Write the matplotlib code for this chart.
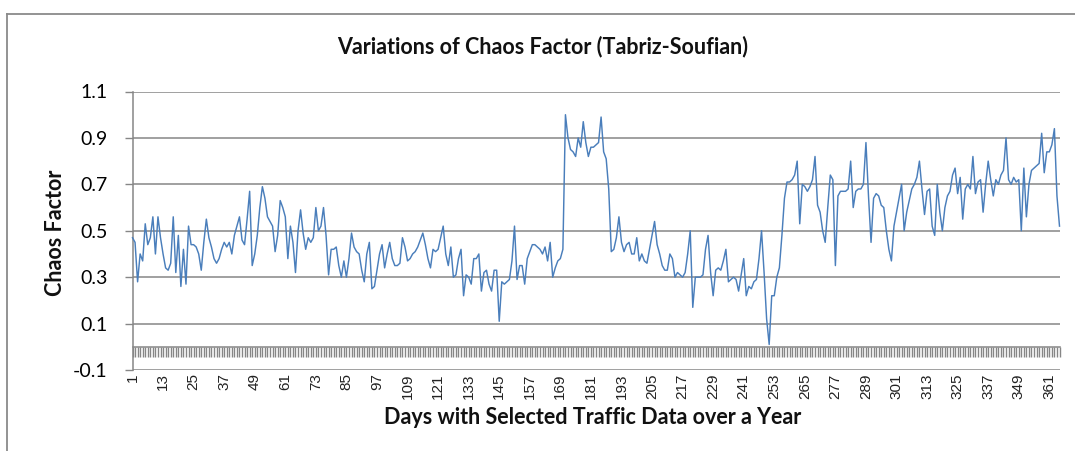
import matplotlib
matplotlib.use("Agg")
import matplotlib.pyplot as plt
from matplotlib.lines import Line2D
from matplotlib.transforms import blended_transform_factory
import numpy as np

days = list(range(1, 366))
chaos = [
    # 1-47
    0.47, 0.45, 0.28, 0.40, 0.37, 0.53, 0.44, 0.47, 0.56, 0.40,
    0.56, 0.47, 0.40, 0.34, 0.33, 0.36, 0.56, 0.32, 0.48, 0.26,
    0.42, 0.27, 0.52, 0.44, 0.44, 0.43, 0.40, 0.33, 0.45, 0.55,
    0.47, 0.43, 0.38, 0.36, 0.38, 0.42, 0.45, 0.43, 0.45, 0.40,
    0.48, 0.52, 0.56, 0.46, 0.44, 0.55, 0.67,
    # 48-92
    0.35, 0.40, 0.48, 0.60, 0.69, 0.64, 0.56, 0.54, 0.52, 0.41,
    0.48, 0.63, 0.60, 0.56, 0.38, 0.52, 0.45, 0.32, 0.50, 0.59,
    0.49, 0.42, 0.47, 0.45, 0.47, 0.60, 0.50, 0.52, 0.60, 0.48,
    0.31, 0.42, 0.42, 0.43, 0.35, 0.30, 0.37, 0.30, 0.38, 0.49,
    0.43, 0.41, 0.40, 0.33, 0.28,
    # 93-141
    0.40, 0.45, 0.25, 0.26, 0.33, 0.40, 0.44, 0.34, 0.40, 0.45,
    0.38, 0.35, 0.35, 0.36, 0.47, 0.43, 0.37, 0.38, 0.40, 0.41,
    0.43, 0.46, 0.49, 0.44, 0.38, 0.34, 0.42, 0.41, 0.42, 0.47,
    0.52, 0.40, 0.35, 0.43, 0.30, 0.31, 0.38, 0.42, 0.22, 0.31,
    0.30, 0.27, 0.38, 0.38, 0.40, 0.24, 0.32, 0.33, 0.27,
    # 142-188
    0.24, 0.33, 0.33, 0.11, 0.28, 0.27, 0.28, 0.29, 0.37, 0.52,
    0.29, 0.35, 0.35, 0.27, 0.38, 0.41, 0.44, 0.44, 0.43, 0.42,
    0.40, 0.43, 0.37, 0.45, 0.30, 0.34, 0.37, 0.38, 0.42, 1.00,
    0.90, 0.85, 0.84, 0.82, 0.90, 0.86, 0.97, 0.88, 0.82, 0.86,
    0.86, 0.87, 0.88, 0.99, 0.84, 0.81, 0.68,
    # 189-235
    0.41, 0.42, 0.47, 0.56, 0.45, 0.41, 0.44, 0.45, 0.40, 0.40,
    0.47, 0.37, 0.40, 0.37, 0.36, 0.42, 0.48, 0.54, 0.44, 0.40,
    0.35, 0.33, 0.33, 0.40, 0.38, 0.30, 0.32, 0.31, 0.30, 0.32,
    0.40, 0.50, 0.17, 0.30, 0.30, 0.30, 0.31, 0.42, 0.48, 0.32,
    0.22, 0.33, 0.34, 0.33, 0.37, 0.42, 0.28,
    # 236-282
    0.29, 0.30, 0.29, 0.24, 0.31, 0.38, 0.22, 0.26, 0.25, 0.28,
    0.29, 0.38, 0.50, 0.32, 0.12, 0.01, 0.22, 0.22, 0.30, 0.34,
    0.48, 0.64, 0.71, 0.71, 0.72, 0.74, 0.80, 0.53, 0.70, 0.69,
    0.67, 0.69, 0.72, 0.82, 0.61, 0.58, 0.50, 0.45, 0.60, 0.74,
    0.72, 0.35, 0.65, 0.67, 0.67, 0.67, 0.68,
    # 283-326
    0.80, 0.60, 0.67, 0.68, 0.68, 0.70, 0.88, 0.65, 0.45, 0.64,
    0.66, 0.65, 0.61, 0.60, 0.50, 0.42, 0.37, 0.52, 0.58, 0.64,
    0.70, 0.50, 0.58, 0.63, 0.68, 0.70, 0.73, 0.80, 0.68, 0.57,
    0.67, 0.68, 0.52, 0.48, 0.70, 0.58, 0.50, 0.60, 0.65, 0.67,
    0.74, 0.77, 0.66, 0.73,
    # 327-365
    0.55, 0.68, 0.70, 0.68, 0.82, 0.66, 0.71, 0.72, 0.58, 0.70,
    0.80, 0.72, 0.65, 0.72, 0.70, 0.74, 0.76, 0.90, 0.72, 0.70,
    0.73, 0.71, 0.72, 0.50, 0.77, 0.56, 0.70, 0.76, 0.77, 0.78,
    0.79, 0.92, 0.75, 0.84, 0.84, 0.87, 0.94, 0.65, 0.52,
]
y_ticks = [-0.1, 0.1, 0.3, 0.5, 0.7, 0.9, 1.1]
y_tick_labels = ["-0.1", "0.1", "0.3", "0.5", "0.7", "0.9", "1.1"]
x_label_days = list(range(1, 366, 12))

title = "Variations of Chaos Factor (Tabriz-Soufian)"
xlabel = "Days with Selected Traffic Data over a Year"
ylabel = "Chaos Factor"

FONT = ["Lato", "DejaVu Sans"]
GRID = "#868686"

W, H = 1075, 451
fig = plt.figure(figsize=(W / 100, H / 100), dpi=100)
fig.patch.set_facecolor("white")

# outer chart border
fig.add_artist(Line2D([7 / W, 7 / W], [0, 1 - 14 / H], color="#8a8a8a", lw=1.3,
                      transform=fig.transFigure))
fig.add_artist(Line2D([7 / W, 1], [1 - 14 / H, 1 - 14 / H], color="#8a8a8a", lw=1.3,
                      transform=fig.transFigure))

left, right, top, bottom = 132.5, 1059.5, 91.5, 370
ax = fig.add_axes([left / W, 1 - bottom / H, (right - left) / W, (bottom - top) / H])

ax.plot(days, chaos, color="#4A7EBB", lw=1.05, zorder=3, clip_on=False)

ax.set_xlim(1, 365)
ax.set_ylim(-0.1, 1.1)

ax.set_yticks(y_ticks)
ax.set_yticklabels(y_tick_labels, fontfamily=FONT, fontsize=14)
ax.yaxis.grid(True, color=GRID, lw=1.1)
ax.set_axisbelow(True)
ax.tick_params(axis="y", length=6, color=GRID, width=1.0, pad=12)

for s in ["top", "right"]:
    ax.spines[s].set_visible(False)
ax.spines["left"].set_color(GRID)
ax.spines["left"].set_linewidth(1.1)
ax.spines["bottom"].set_position(("data", 0))
ax.spines["bottom"].set_color(GRID)
ax.spines["bottom"].set_linewidth(1.1)

ax.set_xticks(days)
ax.tick_params(axis="x", length=7.5, color=GRID, width=1.0, direction="out",
               labelbottom=False)

trans = blended_transform_factory(ax.transData, ax.transAxes)
for d in x_label_days:
    ax.text(d, -0.012, str(d), transform=trans, rotation=90, ha="center", va="top",
            fontsize=11, fontfamily=["Liberation Sans", "DejaVu Sans"], color="#222222")

fig.text(543 / W, 1 - 47 / H, title, ha="center", va="center", fontsize=15.5,
         fontweight="bold", fontfamily=FONT, color="#111111")
fig.text(593 / W, 1 - 417 / H, xlabel, ha="center", va="center", fontsize=15.5,
         fontweight="bold", fontfamily=FONT, color="#111111")
fig.text(55 / W, 1 - 233 / H, ylabel, ha="center", va="center", rotation=90,
         fontsize=15.5, fontweight="bold", fontfamily=FONT, color="#111111")

fig.savefig("out.png", dpi=100, facecolor="white")
